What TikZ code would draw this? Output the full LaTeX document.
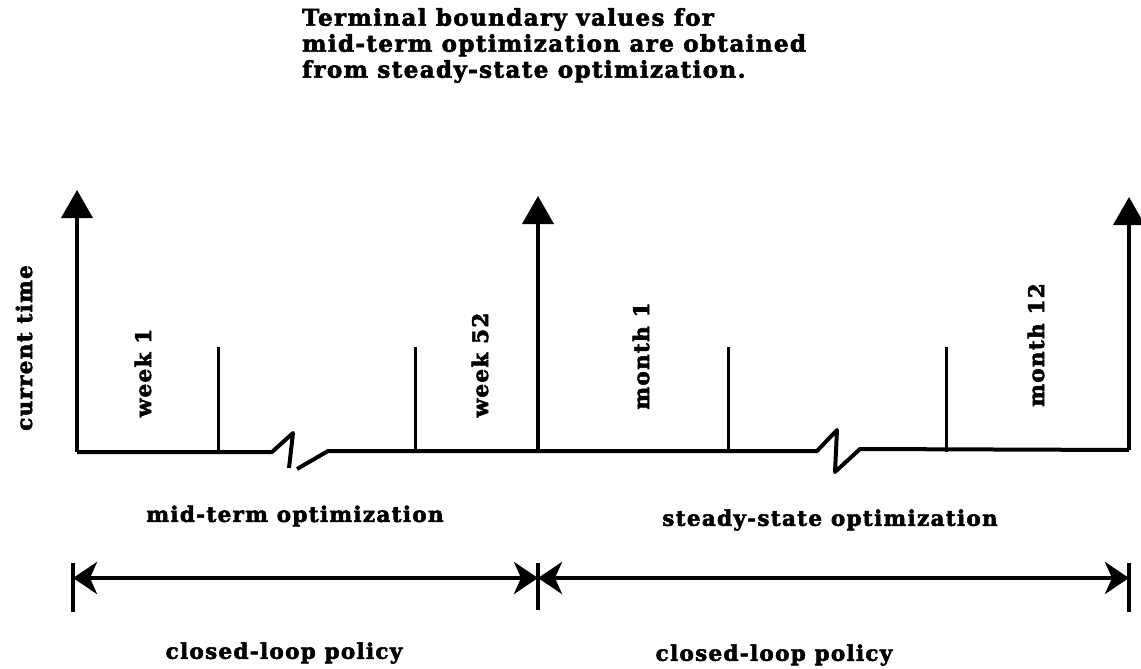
\documentclass[tikz,border=0pt]{standalone}
\usepackage{fontspec}
\setmainfont{DejaVu Serif}[BoldFont={DejaVu Serif Bold}]
\newfontfamily\lblfont{DejaVu Serif Bold}[LetterSpace=6,FakeBold=2.5]
\usetikzlibrary{arrows.meta}
\begin{document}
\begin{tikzpicture}[x=1pt,y=-1pt,
  lbl/.style={font=\lblfont\fontsize{21.5}{25.5}\selectfont, inner sep=0pt},
  headtxt/.style={font=\lblfont\fontsize{23}{26}\selectfont, inner sep=0pt, align=left},
  axis/.style={line width=4pt, -{Triangle[length=28pt,width=31pt]}},
  baseline/.style={line width=4pt, line join=round},
  tick/.style={line width=3pt},
  span/.style={line width=4pt, {Stealth[length=24pt,width=32pt,inset=7pt]}-{Stealth[length=24pt,width=32pt,inset=7pt]}},
  endmark/.style={line width=3.5pt}]
\useasboundingbox (0,0) rectangle (1141,669);

% axis feet and tips
\coordinate (o1) at (77,452);  \coordinate (t1) at (77,190);
\coordinate (o2) at (538,451); \coordinate (t2) at (538,196);
\coordinate (o3) at (1129,450); \coordinate (t3) at (1129,197);

% time line with two breaks
\draw[baseline] (o1) -- (272,452) -- (293,433) -- (289,468);
\draw[baseline] (297,469) -- (328,451) -- (o2) -- (817,451) -- (837,430) -- (835,472) -- (860,449) -- (o3);

% current-time arrows
\draw[axis] (o1) -- (t1);
\draw[axis] (o2) -- (t2);
\draw[axis] (o3) -- (t3);

% period ticks
\foreach \x in {218,415,728,946} \draw[tick] (\x,347) -- (\x,452);

% labels along the axis
\node[lbl, rotate=90] (ct) at (24,348) {current time};
\node[lbl, rotate=90] (w1) at (143,373) {week 1};
\node[lbl, rotate=90] (w52) at (480,365) {week 52};
\node[lbl, rotate=90] (m1) at (641,356) {month 1};
\node[lbl, rotate=90] (m12) at (1036,345) {month 12};

% heading
\node[headtxt, anchor=north west] (head) at (302,8)
  {Terminal boundary values for\\mid-term optimization are obtained\\from steady-state optimization.};

% horizon names
\node[lbl] (mt) at (295,516) {mid-term optimization};
\node[lbl] (ss) at (830,520) {steady-state optimization};

% closed-loop spans
\coordinate (a1) at (73,578);
\coordinate (a2) at (538,578);
\coordinate (a3) at (1129,578);
\draw[endmark] (73,563) -- (73,612);
\draw[endmark] (538,563) -- (538,610);
\draw[endmark] (1129,563) -- (1129,612);
\draw[span] (a1) -- (a2);
\draw[span] (a2) -- (a3);

\node[lbl] (p1) at (284,653) {closed-loop policy};
\node[lbl] (p2) at (774,655) {closed-loop policy};
\end{tikzpicture}
\end{document}
